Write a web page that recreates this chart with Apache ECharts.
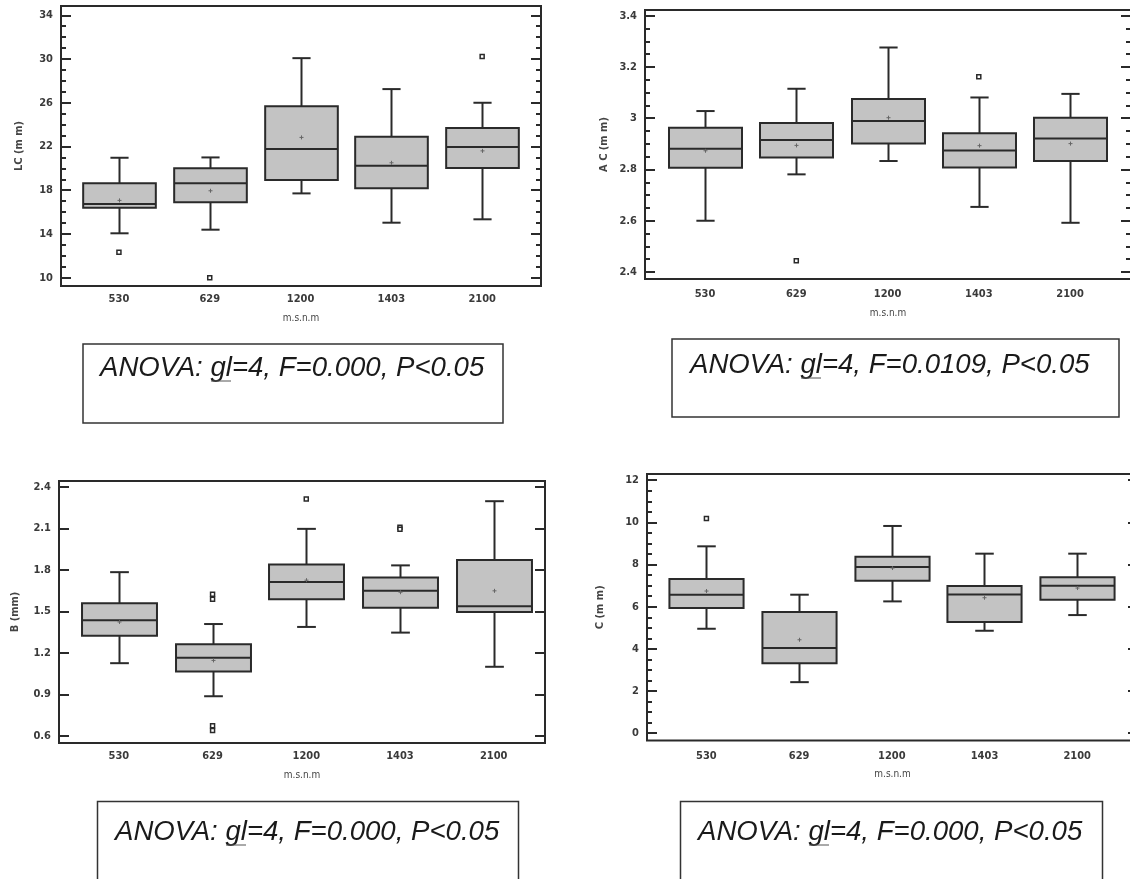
<!DOCTYPE html>
<html><head><meta charset="utf-8">
<script src="https://cdn.jsdelivr.net/npm/echarts@6/dist/echarts.min.js"></script>
<style>html,body{margin:0;padding:0;background:#fff}#c{width:1130px;height:879px}</style>
</head><body><div id="c"></div>
<script>
const categories = ['530', '629', '1200', '1403', '2100'];

// LC (m m)
const lcLow  = [14.06, 14.39, 17.71, 15.03, 15.34];
const lcQ1   = [16.40, 16.90, 18.93, 18.17, 20.03];
const lcMed  = [16.74, 18.63, 21.76, 20.24, 21.95];
const lcQ3   = [18.63, 20.00, 25.67, 22.89, 23.68];
const lcHigh = [20.97, 21.00, 30.08, 27.25, 26.00];
const lcMean = [17.07, 17.95, 22.83, 20.51, 21.60];
const lcOutliers = [[0, 12.32], [1, 10.0], [4, 30.24]];
const lcTicks = [10, 14, 18, 22, 26, 30, 34];

// A C (m m)
const acLow  = [2.600, 2.781, 2.833, 2.654, 2.592];
const acQ1   = [2.807, 2.847, 2.901, 2.808, 2.833];
const acMed  = [2.881, 2.915, 2.989, 2.874, 2.921];
const acQ3   = [2.963, 2.981, 3.075, 2.941, 3.002];
const acHigh = [3.028, 3.115, 3.276, 3.081, 3.095];
const acMean = [2.873, 2.894, 3.002, 2.893, 2.901];
const acOutliers = [[1, 2.444], [3, 3.162]];
const acTicks = [2.4, 2.6, 2.8, 3.0, 3.2, 3.4];

// B (mm)
const bLow  = [1.127, 0.888, 1.389, 1.348, 1.101];
const bQ1   = [1.326, 1.067, 1.589, 1.527, 1.497];
const bMed  = [1.437, 1.166, 1.713, 1.650, 1.539];
const bQ3   = [1.560, 1.263, 1.841, 1.747, 1.873];
const bHigh = [1.785, 1.410, 2.098, 1.834, 2.298];
const bMean = [1.425, 1.147, 1.727, 1.640, 1.650];
const bOutliers = [[1, 1.625], [1, 1.590], [1, 0.675], [1, 0.640], [2, 2.313], [3, 2.110], [3, 2.095]];
const bTicks = [0.6, 0.9, 1.2, 1.5, 1.8, 2.1, 2.4];

// C (m m)
const cLow  = [4.955, 2.422, 6.253, 4.860, 5.604];
const cQ1   = [5.936, 3.324, 7.234, 5.271, 6.332];
const cMed  = [6.570, 4.037, 7.883, 6.585, 6.997];
const cQ3   = [7.314, 5.746, 8.374, 6.981, 7.393];
const cHigh = [8.865, 6.570, 9.831, 8.517, 8.517];
const cMean = [6.744, 4.432, 7.836, 6.427, 6.886];
const cOutliers = [[0, 10.18]];
const cTicks = [0, 2, 4, 6, 8, 10, 12];

const anovaTexts = [
  'ANOVA: gl=4, F=0.000, P<0.05',
  'ANOVA: gl=4, F=0.0109, P<0.05',
  'ANOVA: gl=4, F=0.000, P<0.05',
  'ANOVA: gl=4, F=0.000, P<0.05'
];

function minorTicks(majors, parts) {
  const out = [];
  const step = (majors[1] - majors[0]) / parts;
  for (let i = 0; i < majors.length - 1; i++) {
    for (let k = 1; k < parts; k++) out.push(+(majors[i] + k * step).toFixed(4));
  }
  return out;
}

const INK = '#2a2a2a';
const LABEL_FONT = '"Liberation Sans Narrow", "Arial Narrow", "DejaVu Sans Condensed", sans-serif';

function boxRender(params, api) {
  const x = api.value(0);
  const low = api.coord([x, api.value(1)]);
  const q1 = api.coord([x, api.value(2)]);
  const med = api.coord([x, api.value(3)]);
  const q3 = api.coord([x, api.value(4)]);
  const high = api.coord([x, api.value(5)]);
  const mean = api.coord([x, api.value(6)]);
  const bw = api.size([0.8, 0])[0];
  const cw = api.size([0.2, 0])[0];
  const cx = Math.round(low[0]) + 0.5;
  const ls = { stroke: INK, lineWidth: 2, fill: null };
  const ms = { stroke: '#666', lineWidth: 1, fill: null };
  return {
    type: 'group',
    children: [
      { type: 'line', shape: { x1: cx, y1: high[1], x2: cx, y2: q3[1] }, style: ls },
      { type: 'line', shape: { x1: cx, y1: q1[1], x2: cx, y2: low[1] }, style: ls },
      { type: 'line', shape: { x1: cx - cw / 2, y1: high[1], x2: cx + cw / 2, y2: high[1] }, style: ls },
      { type: 'line', shape: { x1: cx - cw / 2, y1: low[1], x2: cx + cw / 2, y2: low[1] }, style: ls },
      { type: 'rect', shape: { x: cx - bw / 2, y: q3[1], width: bw, height: q1[1] - q3[1] },
        style: { fill: '#c3c3c3', stroke: INK, lineWidth: 2 } },
      { type: 'line', shape: { x1: cx - bw / 2, y1: med[1], x2: cx + bw / 2, y2: med[1] }, style: ls },
      { type: 'line', shape: { x1: cx - 2, y1: mean[1], x2: cx + 2, y2: mean[1] }, style: ms },
      { type: 'line', shape: { x1: cx, y1: mean[1] - 2, x2: cx, y2: mean[1] + 2 }, style: ms }
    ]
  };
}

const panels = [
  { name: 'LC (m m)', low: lcLow, q1: lcQ1, med: lcMed, q3: lcQ3, high: lcHigh, mean: lcMean,
    out: lcOutliers, ticks: lcTicks, minorL: minorTicks(lcTicks, 4), minorR: minorTicks(lcTicks, 4),
    grid: { left: 61, top: 6, width: 480, height: 280 }, xMin: -0.638, xMax: 4.648, yMin: 9.24, yMax: 34.85,
    nameGap: 36, xMargin: 8, xNameGap: 27, fmt: v => String(v) },
  { name: 'A C (m m)', low: acLow, q1: acQ1, med: acMed, q3: acQ3, high: acHigh, mean: acMean,
    out: acOutliers, ticks: acTicks, minorL: minorTicks(acTicks, 4), minorR: minorTicks(acTicks, 4),
    grid: { left: 645, top: 10, width: 486, height: 269 }, xMin: -0.658, xMax: 4.668, yMin: 2.3727, yMax: 3.4223,
    nameGap: 35, xMargin: 10, xNameGap: 29, fmt: v => (Math.abs(v - 3) < 1e-9 ? '3' : v.toFixed(1)) },
  { name: 'B (mm)', low: bLow, q1: bQ1, med: bMed, q3: bQ3, high: bHigh, mean: bMean,
    out: bOutliers, ticks: bTicks, minorL: [], minorR: [],
    grid: { left: 59, top: 481, width: 486, height: 262 }, xMin: -0.639, xMax: 4.548, yMin: 0.55, yMax: 2.444,
    nameGap: 38, xMargin: 8, xNameGap: 27, fmt: v => v.toFixed(1) },
  { name: 'C (m m)', low: cLow, q1: cQ1, med: cMed, q3: cQ3, high: cHigh, mean: cMean,
    out: cOutliers, ticks: cTicks, minorL: minorTicks(cTicks, 4), minorR: [],
    grid: { left: 647, top: 474, width: 491, height: 266.5 }, xMin: -0.641, xMax: 4.656, yMin: -0.346, yMax: 12.296,
    nameGap: 41, xMargin: 10, xNameGap: 29, fmt: v => String(v) }
];

const labelStyle = { fontFamily: LABEL_FONT, fontSize: 11, fontWeight: 'bold', color: '#3a3a3a' };

const option = { animation: false, backgroundColor: '#fff', grid: [], xAxis: [], yAxis: [], series: [], graphic: [] };

panels.forEach((p, i) => {
  option.grid.push(Object.assign({ show: true, borderColor: INK, borderWidth: 2, backgroundColor: 'transparent',
    containLabel: false, outerBoundsMode: 'none' }, p.grid));
  option.xAxis.push({
    type: 'value', gridIndex: i, min: p.xMin, max: p.xMax, position: 'bottom',
    axisLine: { show: false, onZero: false }, axisTick: { show: false }, splitLine: { show: false },
    axisLabel: Object.assign({ customValues: [0, 1, 2, 3, 4], formatter: v => categories[Math.round(v)], margin: p.xMargin }, labelStyle),
    name: 'm.s.n.m', nameLocation: 'middle', nameGap: p.xNameGap,
    nameTextStyle: { fontFamily: LABEL_FONT, fontSize: 10, color: '#444' }
  });
  const base = { type: 'value', gridIndex: i, min: p.yMin, max: p.yMax,
    axisLine: { show: false, onZero: false }, splitLine: { show: false } };
  option.yAxis.push(Object.assign({}, base, {
    position: 'left',
    axisTick: { inside: true, length: 10, customValues: p.ticks, lineStyle: { color: INK, width: 2 } },
    axisLabel: Object.assign({ customValues: p.ticks, margin: 8, formatter: p.fmt }, labelStyle),
    name: p.name, nameLocation: 'middle', nameGap: p.nameGap, nameRotate: 90,
    nameTextStyle: { fontFamily: LABEL_FONT, fontSize: 11, fontWeight: 'bold', color: '#444' }
  }));
  option.yAxis.push(Object.assign({}, base, {
    position: 'right', axisLabel: { show: false },
    axisTick: { inside: true, length: 10, customValues: p.ticks, lineStyle: { color: INK, width: 2 } }
  }));
  option.yAxis.push(Object.assign({}, base, {
    position: 'left', axisLabel: { show: false },
    axisTick: { show: p.minorL.length > 0, inside: true, length: 5, customValues: p.minorL.length ? p.minorL : [p.yMin], lineStyle: { color: INK, width: 2 } }
  }));
  option.yAxis.push(Object.assign({}, base, {
    position: 'right', axisLabel: { show: false },
    axisTick: { show: p.minorR.length > 0, inside: true, length: 5, customValues: p.minorR.length ? p.minorR : [p.yMin], lineStyle: { color: INK, width: 2 } }
  }));
  option.series.push({
    type: 'custom', xAxisIndex: i, yAxisIndex: i * 4,
    renderItem: boxRender,
    encode: { x: 0, y: [1, 2, 3, 4, 5, 6] },
    data: categories.map((c, k) => [k, p.low[k], p.q1[k], p.med[k], p.q3[k], p.high[k], p.mean[k]]),
    clip: false, z: 2
  });
  option.series.push({
    type: 'scatter', xAxisIndex: i, yAxisIndex: i * 4,
    symbol: 'rect', symbolSize: 4,
    itemStyle: { color: '#fff', borderColor: INK, borderWidth: 1.5, opacity: 1 },
    data: p.out, z: 3
  });
});

// ANOVA annotation boxes
const boxes = [
  { x: 83, y: 344, w: 420, h: 79, tx: 100, ty: 368, ux: 211 },
  { x: 672, y: 339, w: 447, h: 78, tx: 690, ty: 365, ux: 801 },
  { x: 97.5, y: 801.5, w: 421, h: 100, tx: 115, ty: 832, ux: 226 },
  { x: 680.5, y: 801.5, w: 422, h: 100, tx: 698, ty: 832, ux: 809 }
];
boxes.forEach((b, i) => {
  option.graphic.push({ type: 'rect', shape: { x: b.x, y: b.y, width: b.w, height: b.h },
    style: { fill: null, stroke: '#333', lineWidth: 1.5 }, z: 10 });
  option.graphic.push({ type: 'text', x: b.tx, y: b.ty,
    style: { text: anovaTexts[i], font: 'italic 27.6px "Liberation Sans", Arial, sans-serif', fill: '#1a1a1a',
      textVerticalAlign: 'middle', verticalAlign: 'middle' }, z: 10 });
  option.graphic.push({ type: 'line', shape: { x1: b.ux, y1: b.ty + 13, x2: b.ux + 20, y2: b.ty + 13 },
    style: { stroke: '#555', lineWidth: 1 }, z: 10 });
});

const chart = echarts.init(document.getElementById('c'), null, { renderer: 'canvas' });
chart.setOption(option);
</script>
</body></html>
